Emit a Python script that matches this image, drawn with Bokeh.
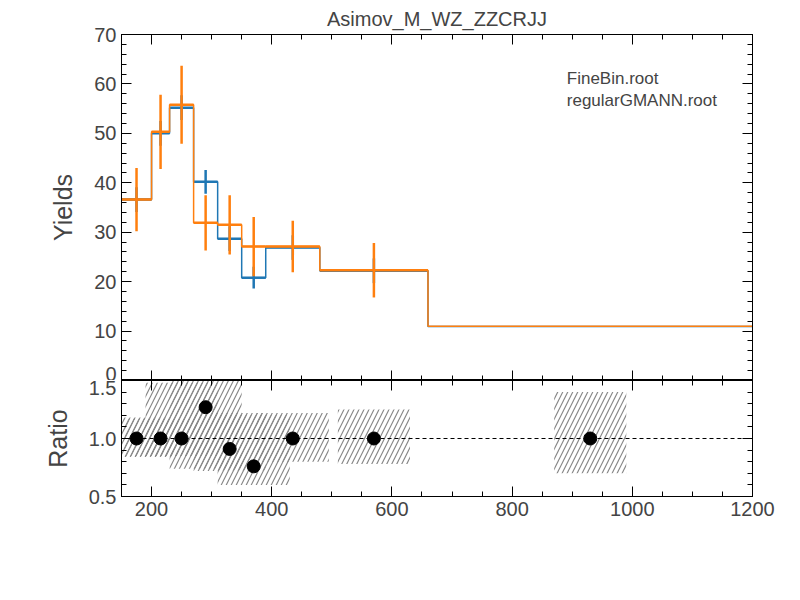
import numpy as np
from bokeh.plotting import figure
from bokeh.layouts import column
from bokeh.models import (Range1d, LinearAxis, FixedTicker, Legend, LegendItem, Label, Span,
                          CustomJSTickFormatter)
from bokeh.embed import file_html
from bokeh.resources import INLINE

edges = [150, 200, 230, 270, 310, 350, 390, 480, 660, 1200]
centers = [175, 215, 250, 290, 330, 370, 435, 570, 930]
fine_vals = [36.6, 50.0, 55.2, 40.2, 28.7, 20.8, 26.9, 22.2, 10.9]
fine_err = [2.5, 2.5, 2.5, 2.4, 2.5, 2.2, 2.5, 2.5, 0.0]
gmann_vals = [36.6, 50.3, 55.8, 31.9, 31.5, 27.1, 27.1, 22.3, 11.0]
gmann_err = [6.4, 7.5, 7.9, 5.6, 6.0, 6.0, 5.2, 5.5, 0.0]
ratio = [1.0, 1.0, 1.0, 1.27, 0.91, 0.76, 1.0, 1.0, 1.0]
band_lo = [0.84, 0.85, 0.85, 0.74, 0.72, 0.60, 0.80, 0.78, 0.70]
band_hi = [1.18, 1.17, 1.48, 1.50, 1.22, 1.20, 1.22, 1.25, 1.40]
band_halfwidth = 60

BLUE = "#1f77b4"
ORANGE = "#ff7f0e"
FONT = "Liberation Sans"

def style(p, ylabel):
    for ax in [p.xaxis[0], p.yaxis[0]]:
        ax.major_tick_in = 10; ax.major_tick_out = 0
        ax.minor_tick_in = 5; ax.minor_tick_out = 0
        ax.major_label_text_font = FONT
        ax.major_label_text_font_size = "20px"
        ax.axis_line_color = "black"
        ax.axis_line_width = 1
    p.yaxis[0].axis_label = ylabel
    p.yaxis[0].axis_label_text_font = FONT
    p.yaxis[0].axis_label_text_font_size = "25px"
    p.yaxis[0].axis_label_text_font_style = "normal"
    p.yaxis[0].axis_label_standoff = 14
    p.xgrid.visible = False; p.ygrid.visible = False
    p.outline_line_color = "black"
    p.outline_line_width = 1

def mirror(p, xt, yt):
    for loc, t in [("above", xt), ("right", yt)]:
        ax = LinearAxis(ticker=t, major_label_text_font_size="0px",
                        major_tick_in=10, major_tick_out=0, minor_tick_in=5, minor_tick_out=0)
        p.add_layout(ax, loc)

xt_major = list(range(200, 1201, 200))
xt_minor = list(range(150, 1201, 50))

p = figure(frame_width=631, frame_height=346, output_backend="svg", toolbar_location=None,
           x_range=Range1d(150, 1200), y_range=Range1d(0, 70),
           min_border_left=121, min_border_top=34, min_border_bottom=0, min_border_right=32)
p.title.text = "Asimov_M_WZ_ZZCRJJ"
p.title.align = "center"
p.title.text_font = FONT
p.title.text_font_size = "20px"
p.title.text_font_style = "normal"
xtick = FixedTicker(ticks=xt_major, minor_ticks=xt_minor)
ytick = FixedTicker(ticks=list(range(0, 71, 10)), minor_ticks=list(range(0, 71, 2)))
p.xaxis.ticker = xtick
p.yaxis.ticker = ytick
style(p, "Yields")
p.xaxis[0].major_label_text_font_size = "0px"
mirror(p, xtick, ytick)

for vals, err, col in [(fine_vals, fine_err, BLUE), (gmann_vals, gmann_err, ORANGE)]:
    p.step(x=edges, y=vals + [vals[-1]], mode="after", line_color=col, line_width=1.5)
    n = len(centers) - 1
    p.segment(x0=edges[:n], x1=edges[1:n + 1], y0=vals[:n], y1=vals[:n], line_color=col, line_width=2.5)
    p.segment(x0=centers[:n], x1=centers[:n],
              y0=[v - e for v, e in zip(vals[:n], err[:n])],
              y1=[v + e for v, e in zip(vals[:n], err[:n])], line_color=col, line_width=2.5)

lb = p.scatter(x=[], y=[], marker="cross", size=26, line_color=BLUE, line_width=2.5)
lo = p.scatter(x=[], y=[], marker="cross", size=26, line_color=ORANGE, line_width=2.5)
leg = Legend(items=[LegendItem(label="FineBin.root", renderers=[lb]),
                    LegendItem(label="regularGMANN.root", renderers=[lo])],
             location="top_right", margin=25, border_line_alpha=0, background_fill_alpha=0,
             label_text_font=FONT, label_text_font_size="17px", glyph_width=30, spacing=2,
             label_standoff=6)
p.add_layout(leg)

r = figure(frame_width=631, frame_height=116, output_backend="svg", toolbar_location=None,
           x_range=p.x_range, y_range=Range1d(0.5, 1.5),
           min_border_left=121, min_border_top=0, min_border_bottom=80, min_border_right=32)
rytick = FixedTicker(ticks=[0.5, 1.0, 1.5], minor_ticks=[round(0.5 + 0.1 * i, 2) for i in range(11)])
r.xaxis.ticker = xtick
r.yaxis.ticker = rytick
style(r, "Ratio")
r.yaxis[0].formatter = CustomJSTickFormatter(code="return tick.toFixed(1);")
mirror(r, xtick, rytick)

lefts = [max(150, c - band_halfwidth) for c in centers]
rights = [c + band_halfwidth for c in centers]
r.quad(left=lefts, right=rights, bottom=band_lo, top=band_hi, fill_alpha=0, line_alpha=0,
       hatch_pattern="/", hatch_color="#888888", hatch_scale=10, hatch_weight=1.2)
r.add_layout(Span(location=1.0, dimension="width", line_color="black", line_dash="4 3", line_width=1))
r.scatter(x=centers, y=ratio, size=13, color="black")

r.add_layout(Label(x=978, y=-0.07, text="m", text_font=FONT, text_font_size="25px",
                   text_font_style="italic", text_baseline="alphabetic"))
r.add_layout(Label(x=1015, y=-0.12, text="WZ", text_font=FONT, text_font_size="18px",
                   text_font_style="italic", text_baseline="alphabetic"))
r.add_layout(Label(x=1078, y=-0.07, text="[GeV]", text_font=FONT, text_font_size="25px",
                   text_baseline="alphabetic"))

lay = column(p, r, spacing=0)
open("out.html", "w").write(file_html(lay, INLINE))
